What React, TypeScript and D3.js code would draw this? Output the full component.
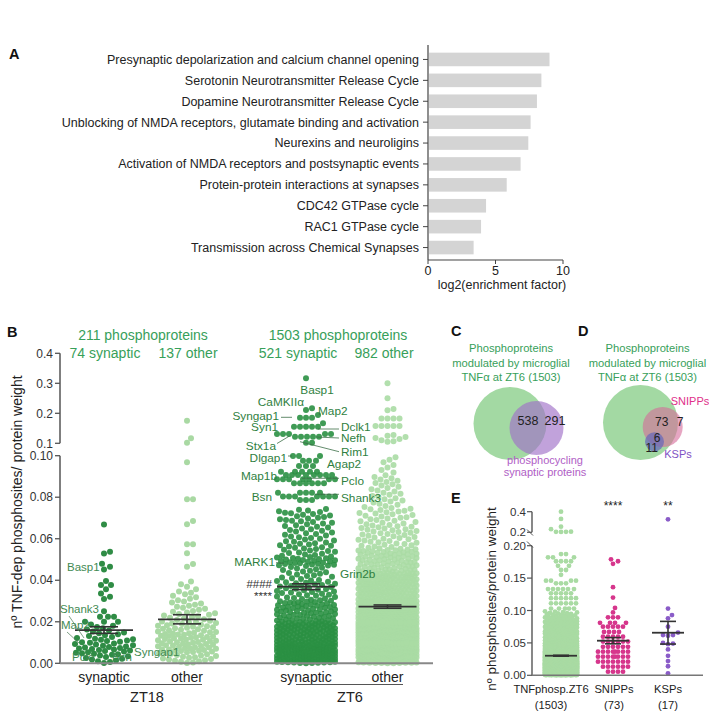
import React, { useMemo } from 'react';
import * as d3 from 'd3';

const FONT = "'Liberation Sans', Arial, Helvetica, sans-serif";

// ---------------- Panel A data ----------------
const pathways = [
  'Presynaptic depolarization and calcium channel opening',
  'Serotonin Neurotransmitter Release Cycle',
  'Dopamine Neurotransmitter Release Cycle',
  'Unblocking of NMDA receptors, glutamate binding and activation',
  'Neurexins and neuroligins',
  'Activation of NMDA receptors and postsynaptic events',
  'Protein-protein interactions at synapses',
  'CDC42 GTPase cycle',
  'RAC1 GTPase cycle',
  'Transmission across Chemical Synapses',
];
const enrichment = [9.0, 8.4, 8.07, 7.6, 7.43, 6.86, 5.83, 4.3, 3.93, 3.38];
const enrichTicks = [0, 5, 10];

// ---------------- Panel B data ----------------
const bGroups = ['zt18syn', 'zt18oth', 'zt6syn', 'zt6oth'];
const bCategoryLabels = ['synaptic', 'other', 'synaptic', 'other'];
const bTimeLabels = ['ZT18', 'ZT6'];
const bHeaderTotals = ['211 phosphoproteins', '1503 phosphoproteins'];
const bHeaderSub = ['74 synaptic', '137 other', '521 synaptic', '982 other'];
const bLowerTicks = [0, 0.02, 0.04, 0.06, 0.08, 0.1];
const bUpperTicks = [0.1, 0.2, 0.3, 0.4];

// individually read points
const zt18SynSparse = [0.0668, 0.0537, 0.0529, 0.048, 0.0465, 0.0452, 0.0396, 0.0377, 0.0377, 0.0357,
  0.0336, 0.032, 0.031, 0.0251, 0.0224, 0.0224, 0.0224, 0.02, 0.02, 0.02];
// dense clusters read as [low, high, count]
const zt18SynDense: [number, number, number][] = [[0, 0.004, 10], [0.004, 0.008, 16], [0.008, 0.012, 14], [0.012, 0.016, 9], [0.016, 0.019, 5]];

const zt18OthSparse = [0.175, 0.117, 0.102, 0.0969, 0.079, 0.079, 0.0685, 0.067, 0.0573, 0.0573, 0.053, 0.0478, 0.0465];
const zt18OthDense: [number, number, number][] = [[0, 0.005, 18], [0.005, 0.01, 26], [0.01, 0.015, 25], [0.015, 0.02, 20],
  [0.02, 0.025, 14], [0.025, 0.03, 10], [0.03, 0.035, 7], [0.035, 0.04, 4]];

const zt6SynSparse = [0.317, 0.217, 0.211, 0.194, 0.185, 0.185, 0.185, 0.167, 0.155, 0.155, 0.155, 0.155, 0.155,
  0.131, 0.131, 0.131, 0.131, 0.131, 0.122, 0.122, 0.122, 0.122, 0.122, 0.102, 0.102,
  0.0998, 0.0998, 0.0998, 0.0976, 0.0976, 0.0976, 0.095, 0.095, 0.095,
  0.0923, 0.0923, 0.0923, 0.0923, 0.0923,
  0.0907, 0.0907, 0.0907, 0.0907, 0.0907, 0.0907, 0.0907, 0.0907,
  0.0886, 0.0886, 0.0886, 0.0886, 0.0886, 0.0886, 0.0886,
  0.0867, 0.0867, 0.0867, 0.0867, 0.0867, 0.0867,
  0.0822, 0.0822, 0.0822, 0.0822, 0.0822,
  0.0803, 0.0803, 0.0803, 0.0803, 0.0803, 0.0803, 0.0803,
  0.0787, 0.0787, 0.0787];
const zt6SynDense: [number, number, number][] = [[0.0675, 0.0745, 20], [0.059, 0.0675, 22], [0.051, 0.059, 25], [0.047, 0.051, 22],
  [0.04, 0.047, 19], [0.03, 0.04, 38], [0.02, 0.03, 60], [0.01, 0.02, 105], [0, 0.01, 135]];

const zt6OthSparse = [0.3, 0.25, 0.214, 0.21, 0.183, 0.183, 0.183, 0.183, 0.158, 0.158, 0.158, 0.158, 0.158,
  0.128, 0.125, 0.121, 0.118, 0.114, 0.11, 0.107, 0.105];
const zt6OthDense: [number, number, number][] = [[0.09, 0.0999, 8], [0.083, 0.09, 12], [0.075, 0.083, 15], [0.0665, 0.075, 25],
  [0.055, 0.0665, 40], [0.044, 0.055, 70], [0.03, 0.044, 160], [0.02, 0.03, 170], [0.01, 0.02, 230], [0, 0.01, 231]];

const bMeans = [0.016, 0.0212, 0.0369, 0.0273];
const bSems = [0.0016, 0.0022, 0.0014, 0.0008];

// ---------------- Panel C / D data ----------------
const vennCTitle = ['Phosphoproteins', 'modulated by microglial', 'TNFα at ZT6 (1503)'];
const vennCCounts = [538, 291];
const vennCSetLabel = ['phosphocycling', 'synaptic proteins'];
const vennDCounts = [73, 7, 6, 11];
const vennDSetLabels = ['SNIPPs', 'KSPs'];

// ---------------- Panel E data ----------------
const eCategories = ['TNFphosp.ZT6', 'SNIPPs', 'KSPs'];
const eCounts = ['(1503)', '(73)', '(17)'];
const eStars = ['', '****', '**'];
const eLowerTicks = [0, 0.05, 0.1, 0.15, 0.2];
const eUpperTicks = [0.2, 0.4];
const eTnfSparse = [0.4, 0.33, 0.255, 0.23, 0.206, 0.205, 0.205, 0.204,
  0.187, 0.187, 0.182, 0.182, 0.182, 0.176, 0.176, 0.176, 0.176, 0.169, 0.169, 0.1625, 0.1625, 0.155,
  0.146, 0.146, 0.146, 0.146, 0.142, 0.142, 0.142, 0.133, 0.133, 0.133, 0.133, 0.133, 0.133,
  0.1265, 0.1265, 0.1265, 0.1265, 0.1265, 0.119, 0.119, 0.119, 0.119, 0.119, 0.119,
  0.111, 0.111, 0.111, 0.111, 0.111, 0.111, 0.103, 0.103, 0.103, 0.103, 0.103];
const eTnfDense: [number, number, number][] = [[0, 0.01, 330], [0.01, 0.02, 362], [0.02, 0.03, 282], [0.03, 0.04, 182],
  [0.04, 0.05, 112], [0.05, 0.06, 66], [0.06, 0.07, 42], [0.07, 0.08, 30], [0.08, 0.09, 24], [0.09, 0.099, 16]];
const eSnipps = [0.179, 0.176, 0.172, 0.136, 0.12, 0.104, 0.097, 0.0895, 0.0895, 0.0895,
  0.081, 0.081, 0.081, 0.081, 0.075, 0.075, 0.075, 0.075, 0.075, 0.067, 0.067, 0.067, 0.067,
  0.0596, 0.0596, 0.0596, 0.0596, 0.0596, 0.052, 0.052, 0.052, 0.052, 0.052, 0.052,
  0.044, 0.044, 0.044, 0.044, 0.044, 0.044, 0.0364, 0.0364, 0.0364, 0.0364, 0.0364, 0.0364, 0.0364, 0.0364,
  0.0287, 0.0287, 0.0287, 0.0287, 0.0287, 0.0287, 0.0287, 0.0287, 0.021, 0.021, 0.021, 0.021, 0.021, 0.021, 0.021,
  0.0133, 0.0133, 0.0133, 0.0133, 0.0133, 0.0133, 0.0056, 0.0056, 0.0056, 0.0056];
const eKsps = [0.326, 0.103, 0.093, 0.088, 0.075, 0.066, 0.062, 0.062, 0.061, 0.05, 0.049, 0.048, 0.04, 0.03, 0.022, 0.014, 0.003];
const eMeans = [0.0302, 0.0534, 0.0657];
const eSems = [0.0007, 0.0048, 0.0175];

// ---------------- helpers ----------------
function expand(bins: [number, number, number][]): number[] {
  const v: number[] = [];
  for (const [lo, hi, n] of bins) for (let i = 0; i < n; i++) v.push(lo + ((i + 0.5) * (hi - lo)) / n);
  return v;
}

type Pt = { x: number; y: number };
function swarm(ys: number[], cx: number, halfW: number, r: number): Pt[] {
  const order = ys.map((_, i) => i).sort((a, b) => ys[b] - ys[a]);
  const cands: number[] = [0];
  for (let d = 1; d <= halfW; d += 1) cands.push(d, -d);
  const placed: Pt[] = [];
  const out: Pt[] = new Array(ys.length);
  const minD = 2 * r;
  for (const i of order) {
    const y = ys[i];
    const nb: Pt[] = [];
    for (let j = placed.length - 1; j >= 0; j--) {
      if (placed[j].y - y >= minD) break;
      nb.push(placed[j]);
    }
    let best = 0;
    let bestScore = -1;
    for (const dx of cands) {
      const x = cx + dx;
      let m = Infinity;
      for (const p of nb) {
        const a = p.x - x, b = p.y - y;
        const dd = a * a + b * b;
        if (dd < m) m = dd;
      }
      if (m >= minD * minD) { best = dx; break; }
      if (m > bestScore) { bestScore = m; best = dx; }
    }
    const p = { x: cx + best, y };
    placed.push(p);
    out[i] = p;
  }
  return out;
}

// ---------------- layout ----------------
const A = { x0: 428, x1: 563, yTop: 45, yBot: 260, bandTop: 49, bandBot: 258 };
const B = { axisX: 60, axisEnd: 433, y0: 663.3, y010: 455.7, yU01: 443.3, yU04: 353.3 };
const bCenters = [104, 187, 306, 387.5];
const bHalfW = 29;
const E = { axisX: 532, axisEnd: 703, y0: 675.3, y020: 545.7, yU02: 532.3, yU04: 511.7 };
const eCenters = [561, 613, 668];
const eLabelX = [551, 614, 668];
const eHalfW = [16.5, 15, 11];

const GREEN_TXT = '#37a05a';
const LABEL_GREEN = '#2f7f41';

export default function App() {
  const xA = d3.scaleLinear().domain([0, 10]).range([A.x0, A.x1]);
  const yA = d3.scaleBand<string>().domain(pathways).range([A.bandTop, A.bandBot]).paddingInner(0.35).paddingOuter(0.175);

  const bLower = d3.scaleLinear().domain([0, 0.1]).range([B.y0, B.y010]);
  const bUpper = d3.scaleLinear().domain([0.1, 0.4]).range([B.yU01, B.yU04]);
  const yB = (v: number) => (v > 0.1 ? bUpper(v) : bLower(v));

  const eLower = d3.scaleLinear().domain([0, 0.2]).range([E.y0, E.y020]);
  const eUpper = d3.scaleLinear().domain([0.2, 0.4]).range([E.yU02, E.yU04]);
  const yE = (v: number) => (v > 0.2 ? eUpper(v) : eLower(v));

  const bPoints = useMemo(() => {
    const sets = [
      zt18SynSparse.concat(expand(zt18SynDense)),
      zt18OthSparse.concat(expand(zt18OthDense)),
      zt6SynSparse.concat(expand(zt6SynDense)),
      zt6OthSparse.concat(expand(zt6OthDense)),
    ];
    return sets.map((vals, gi) => swarm(vals.map(yB), bCenters[gi], bHalfW, 3));
  }, []);

  const ePoints = useMemo(() => {
    const sets = [eTnfSparse.concat(expand(eTnfDense)), eSnipps, eKsps];
    return sets.map((vals, gi) => swarm(vals.map(yE), eCenters[gi], eHalfW[gi], 2.4));
  }, []);

  const bColors = ['#2f8c45', '#a9d9a3', '#2a9042', '#aadba4'];
  const bOpac = [1, 1, 0.9, 0.9];
  const eColors = ['#a9dba3', '#d6368c', '#8a5cc8'];

  const meanBar = (cx: number, y: (v: number) => number, m: number, s: number, hw: number, cw: number, key: string) => (
    <g key={key} stroke="#333" strokeWidth={1.6} fill="none">
      <line x1={cx - hw} x2={cx + hw} y1={y(m)} y2={y(m)} strokeWidth={1.8} />
      <line x1={cx} x2={cx} y1={y(m - s)} y2={y(m + s)} />
      <line x1={cx - cw} x2={cx + cw} y1={y(m + s)} y2={y(m + s)} />
      <line x1={cx - cw} x2={cx + cw} y1={y(m - s)} y2={y(m - s)} />
    </g>
  );

  // ZT6 annotations: [text, x, y, anchor, line?]
  const zt6Labels: [string, number, number, string, number[] | null][] = [
    ['Basp1', 317, 394, 'middle', null],
    ['CaMKIIα', 304, 406, 'end', null],
    ['Map2', 318, 415, 'start', null],
    ['Syngap1', 279, 419.5, 'end', [281, 417.3, 292, 417.3]],
    ['Syn1', 278, 431, 'end', null],
    ['Dclk1', 341, 430.5, 'start', [318, 429, 339, 429]],
    ['Nefh', 341, 442, 'start', [316, 437, 339, 438]],
    ['Stx1a', 276, 450, 'end', [277, 443.5, 289.5, 436]],
    ['Rim1', 341, 456, 'start', [300, 441.7, 339, 451.7]],
    ['Dlgap1', 287, 462, 'end', [288, 456, 292, 456]],
    ['Agap2', 327, 468, 'start', null],
    ['Map1b', 277, 480, 'end', null],
    ['Pclo', 341, 485, 'start', [302, 478.3, 339, 478.3]],
    ['Bsn', 272, 501, 'end', null],
    ['Shank3', 341, 502, 'start', [315, 494.3, 339, 494.3]],
    ['MARK1', 275, 566, 'end', [276, 562.7, 284, 563.3]],
    ['Grin2b', 340, 578, 'start', null],
  ];
  const zt18Labels: [string, number, number, string][] = [
    ['Basp1', 67, 571, 'start'],
    ['Shank3', 60, 613, 'start'],
    ['Map2', 61, 629, 'start'],
    ['Pclo', 72, 661, 'start'],
    ['Bsn', 112, 661, 'start'],
    ['Syngap1', 134, 656, 'start'],
  ];

  return (
    <svg width={709} height={720} style={{ position: 'absolute', left: 0, top: 0, background: '#fff' }} fontFamily={FONT}>
      {/* Panel letters */}
      <g fontWeight="bold" fontSize={14.5} fill="#111">
        <text x={9} y={59}>A</text>
        <text x={7} y={337}>B</text>
        <text x={451} y={336}>C</text>
        <text x={578} y={336}>D</text>
        <text x={451} y={503}>E</text>
      </g>

      {/* ---------- Panel A ---------- */}
      <g>
        {pathways.map((p, i) => (
          <g key={p}>
            <rect x={xA(0) + 1} y={yA(p)!} width={xA(enrichment[i]) - xA(0) - 1} height={yA.bandwidth()} fill="#d4d4d4" />
            <line x1={A.x0 - 5} x2={A.x0} y1={yA(p)! + yA.bandwidth() / 2} y2={yA(p)! + yA.bandwidth() / 2} stroke="#444" strokeWidth={1} />
            <text x={419} y={yA(p)! + yA.bandwidth() / 2} dy="0.35em" textAnchor="end" fontSize={12.5} fill="#222">{p}</text>
          </g>
        ))}
        <line x1={A.x0} x2={A.x0} y1={A.yTop} y2={A.yBot} stroke="#444" strokeWidth={1.2} />
        <line x1={A.x0} x2={A.x1} y1={A.yBot} y2={A.yBot} stroke="#444" strokeWidth={1.2} />
        {enrichTicks.map((t) => (
          <g key={t}>
            <line x1={xA(t)} x2={xA(t)} y1={A.yBot} y2={A.yBot + 4} stroke="#444" />
            <text x={xA(t)} y={275} textAnchor="middle" fontSize={12.5} fill="#222">{t}</text>
          </g>
        ))}
        <text x={502} y={289} textAnchor="middle" fontSize={12.5} fill="#222">log2(enrichment factor)</text>
      </g>

      {/* ---------- Panel B ---------- */}
      <g>
        {/* headers */}
        <g fill={GREEN_TXT} fontSize={14} textAnchor="middle">
          <text x={143} y={340}>{bHeaderTotals[0]}</text>
          <text x={338} y={340}>{bHeaderTotals[1]}</text>
          <text x={105} y={358}>{bHeaderSub[0]}</text>
          <text x={188} y={358}>{bHeaderSub[1]}</text>
          <text x={298} y={358}>{bHeaderSub[2]}</text>
          <text x={384} y={358}>{bHeaderSub[3]}</text>
        </g>
        {/* dots */}
        {bPoints.map((pts, gi) => (
          <g key={bGroups[gi]} fill={bColors[gi]} fillOpacity={bOpac[gi]}>
            {pts.map((p, i) => <circle key={i} cx={p.x} cy={p.y} r={3} />)}
          </g>
        ))}
        {/* axes */}
        <g stroke="#555" strokeWidth={1.5}>
          <line x1={B.axisX} x2={B.axisX} y1={B.y010} y2={B.y0} />
          <line x1={B.axisX} x2={B.axisX} y1={B.yU04} y2={B.yU01} />
          <line x1={B.axisX} x2={B.axisEnd} y1={B.y0} y2={B.y0} stroke="#888" strokeWidth={2} />
        </g>
        {bLowerTicks.map((t) => (
          <g key={'bl' + t}>
            <line x1={B.axisX - 5} x2={B.axisX} y1={bLower(t)} y2={bLower(t)} stroke="#555" strokeWidth={1.3} />
            <text x={53} y={bLower(t)} dy="0.35em" textAnchor="end" fontSize={12} fill="#333">{d3.format('.2f')(t)}</text>
          </g>
        ))}
        {bUpperTicks.map((t) => (
          <g key={'bu' + t}>
            <line x1={B.axisX - 5} x2={B.axisX} y1={bUpper(t)} y2={bUpper(t)} stroke="#555" strokeWidth={1.3} />
            <text x={53} y={bUpper(t)} dy="0.35em" textAnchor="end" fontSize={12} fill="#333">{d3.format('.1f')(t)}</text>
          </g>
        ))}
        <text transform="translate(22,502) rotate(-90)" textAnchor="middle" fontSize={14} fill="#222">nº TNF-dep phosphosites/ protein weight</text>
        {/* means */}
        {bMeans.map((m, gi) => meanBar(bCenters[gi], bLower, m, bSems[gi], bHalfW, 14, 'bm' + gi))}
        {/* category labels */}
        {bCategoryLabels.map((c, i) => (
          <text key={'bc' + i} x={bCenters[i]} y={682} textAnchor="middle" fontSize={14} fill="#222">{c}</text>
        ))}
        <line x1={93} x2={202} y1={684.5} y2={684.5} stroke="#555" strokeWidth={1} />
        <line x1={296} x2={403} y1={684.5} y2={684.5} stroke="#555" strokeWidth={1} />
        <text x={147} y={702} textAnchor="middle" fontSize={14.5} fill="#222">{bTimeLabels[0]}</text>
        <text x={350} y={702} textAnchor="middle" fontSize={14.5} fill="#222">{bTimeLabels[1]}</text>
        {/* ZT6 labels */}
        <g fontSize={11.8} fill={LABEL_GREEN}>
          {zt6Labels.map(([t, x, y, a, ln]) => (
            <g key={t + x}>
              {ln && <line x1={ln[0]} y1={ln[1]} x2={ln[2]} y2={ln[3]} stroke="#3c6e48" strokeWidth={0.8} />}
              <text x={x} y={y} textAnchor={a as any}>{t}</text>
            </g>
          ))}
        </g>
        <g fontSize={11.5} fill="#333" textAnchor="end">
          <text x={272} y={588}>####</text>
          <text x={272} y={600}>****</text>
        </g>
        {/* ZT18 labels */}
        <g fontSize={11.5} fill="#3f8a52">
          {zt18Labels.map(([t, x, y, a]) => (
            <text key={t} x={x} y={y} textAnchor={a as any}>{t}</text>
          ))}
          <line x1={69} y1={616} x2={84} y2={638} stroke="#4a7a55" strokeWidth={0.7} />
          <line x1={67} y1={632} x2={79} y2={643} stroke="#4a7a55" strokeWidth={0.7} />
        </g>
      </g>

      {/* ---------- Panel C ---------- */}
      <g>
        <g fill={GREEN_TXT} fontSize={11.2} textAnchor="middle">
          {vennCTitle.map((t, i) => <text key={t} x={511} y={352 + i * 14.5}>{t}</text>)}
        </g>
        <circle cx={510} cy={423.5} r={36.5} fill="#a3d9a3" />
        <circle cx={536.5} cy={428} r={27} fill="#a070c8" fillOpacity={0.65} />
        <g fontSize={12.5} fill="#222" textAnchor="middle">
          <text x={528} y={424.5}>{vennCCounts[0]}</text>
          <text x={555} y={424.5}>{vennCCounts[1]}</text>
        </g>
        <g fill="#b060c6" fontSize={11} textAnchor="middle">
          <text x={545} y={464}>{vennCSetLabel[0]}</text>
          <text x={545} y={476}>{vennCSetLabel[1]}</text>
        </g>
      </g>

      {/* ---------- Panel D ---------- */}
      <g>
        <g fill={GREEN_TXT} fontSize={11.2} textAnchor="middle">
          {vennCTitle.map((t, i) => <text key={t} x={647.5} y={352 + i * 14.5}>{t}</text>)}
        </g>
        <circle cx={640.5} cy={422.5} r={37.5} fill="#a3d9a3" />
        <circle cx={662.7} cy={427} r={20} fill="#d66a9a" fillOpacity={0.6} />
        <circle cx={654.5} cy={441.7} r={9.5} fill="#6a6ab8" fillOpacity={0.75} />
        <g fontSize={12} fill="#222" textAnchor="middle">
          <text x={661.7} y={426}>{vennDCounts[0]}</text>
          <text x={680} y={426}>{vennDCounts[1]}</text>
          <text x={657} y={441.5}>{vennDCounts[2]}</text>
          <text x={651.7} y={451.5}>{vennDCounts[3]}</text>
        </g>
        <text x={690} y={404.5} textAnchor="middle" fontSize={11} fill="#e0308a">{vennDSetLabels[0]}</text>
        <text x={678} y={458} textAnchor="middle" fontSize={11} fill="#7f52c4">{vennDSetLabels[1]}</text>
      </g>

      {/* ---------- Panel E ---------- */}
      <g>
        {ePoints.map((pts, gi) => (
          <g key={'e' + gi} fill={eColors[gi]}>
            {pts.map((p, i) => <circle key={i} cx={p.x} cy={p.y} r={2.4} />)}
          </g>
        ))}
        <g stroke="#555" strokeWidth={1.4}>
          <line x1={E.axisX} x2={E.axisX} y1={E.y020} y2={E.y0} />
          <line x1={E.axisX} x2={E.axisX} y1={E.yU04} y2={E.yU02} />
          <line x1={527} y1={529.5} x2={533} y2={535.5} strokeWidth={1} />
          <line x1={527} y1={541.5} x2={533} y2={547.5} strokeWidth={1} />
          <line x1={E.axisX} x2={E.axisEnd} y1={E.y0} y2={E.y0} stroke="#777" strokeWidth={1.6} />
        </g>
        {eLowerTicks.map((t) => (
          <g key={'el' + t}>
            <line x1={E.axisX - 5} x2={E.axisX} y1={eLower(t)} y2={eLower(t)} stroke="#555" strokeWidth={1.2} />
            <text x={526} y={eLower(t)} dy="0.35em" textAnchor="end" fontSize={11.5} fill="#333">{d3.format('.2f')(t)}</text>
          </g>
        ))}
        {eUpperTicks.map((t) => (
          <g key={'eu' + t}>
            <line x1={E.axisX - 5} x2={E.axisX} y1={eUpper(t)} y2={eUpper(t)} stroke="#555" strokeWidth={1.2} />
            <text x={526} y={eUpper(t)} dy="0.35em" textAnchor="end" fontSize={11.5} fill="#333">{d3.format('.1f')(t)}</text>
          </g>
        ))}
        <text transform="translate(496,599) rotate(-90)" textAnchor="middle" fontSize={13.5} fill="#222">nº phosphosites/protein weight</text>
        {eMeans.map((m, gi) => meanBar(eCenters[gi], eLower, m, eSems[gi], 16, 8, 'em' + gi))}
        {eCategories.map((c, i) => (
          <g key={c} fontSize={11.2} fill="#222" textAnchor="middle">
            <text x={eLabelX[i]} y={693}>{c}</text>
            <text x={eLabelX[i]} y={709}>{eCounts[i]}</text>
            {eStars[i] && <text x={eCenters[i]} y={510} fontSize={12}>{eStars[i]}</text>}
          </g>
        ))}
      </g>
    </svg>
  );
}
